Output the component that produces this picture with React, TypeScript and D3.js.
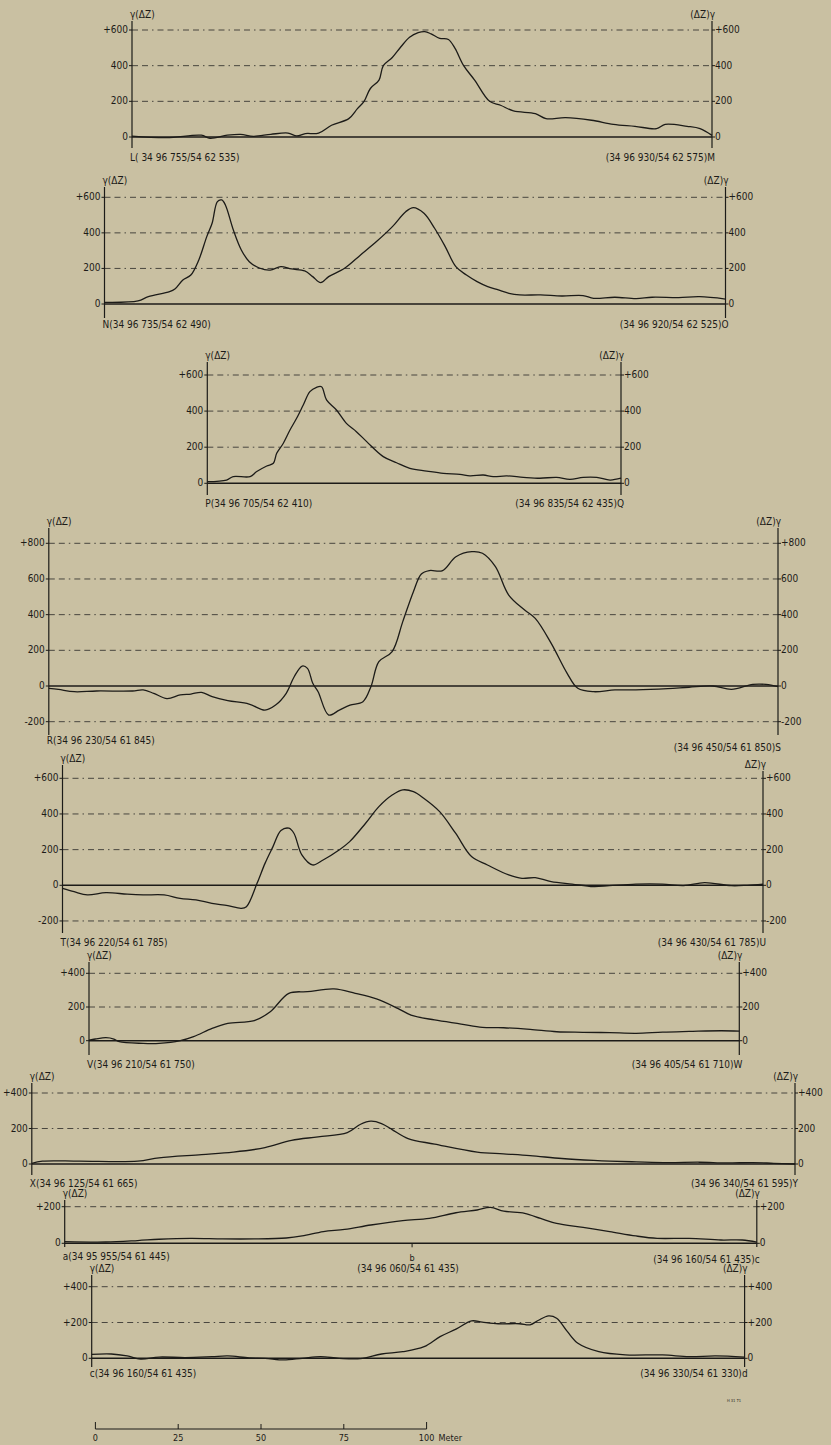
import React from "react";
import * as d3 from "d3";

// ---- Data: distance along profile (m), ΔZ anomaly (gamma) ----
const profileLM = [
  [0, 5], [10.4, -4], [20.9, 10], [23.5, -7], [28.7, 10], [32.7, 15], [36.6, 4], [41.8, 15], [47.0, 22], [49.6, 6],
  [52.2, 19], [56.2, 22], [60.1, 66], [65.3, 103], [67.9, 159], [69.9, 200], [71.8, 272], [74.4, 319], [75.7, 400],
  [78.4, 446], [81.0, 506], [83.6, 559], [86.2, 585], [88.2, 591], [90.1, 578], [92.7, 553], [95.3, 547], [97.3, 497],
  [99.9, 400], [103.2, 319], [107.7, 200], [111.0, 178], [114.9, 146], [121.5, 131], [124.7, 103], [130.6, 109],
  [138.4, 94], [145.0, 71], [151.5, 60], [158.0, 47], [160.6, 71], [167.2, 60], [171.1, 47], [174.7, 9],
];
const profileNO = [
  [0, 9], [10.1, 17], [13.2, 41], [19.6, 69], [21.2, 84], [23.6, 135], [26.0, 163], [28.4, 248], [30.8, 379],
  [32.4, 454], [34.0, 576], [35.3, 585], [36.4, 557], [38.8, 416], [41.2, 304], [43.6, 238], [46.8, 201], [49.9, 191],
  [53.1, 210], [56.3, 197], [60.3, 186], [62.7, 154], [65.1, 120], [67.5, 154], [72.3, 201], [77.1, 276], [81.9, 351],
  [86.7, 435], [90.7, 519], [93.0, 542], [96.2, 510], [99.4, 426], [102.6, 323], [105.8, 210], [109.0, 163],
  [112.2, 126], [115.4, 98], [118.6, 79], [121.8, 60], [125.0, 51], [131.3, 51], [137.7, 45], [144.1, 47], [147.3, 32],
  [153.7, 38], [160.1, 30], [164.9, 38], [172.9, 36], [179.2, 41], [187.0, 28],
];
const profilePQ = [
  [0, 9], [5.8, 18], [7.8, 37], [12.9, 37], [14.9, 65], [17.9, 96], [19.9, 111], [20.9, 166], [22.9, 222], [24.9, 295],
  [26.9, 360], [28.9, 434], [30.9, 508], [32.9, 532], [34.4, 535], [35.9, 462], [38.9, 406], [41.9, 332], [44.9, 286],
  [48.0, 231], [53.0, 148], [57.0, 114], [61.0, 83], [66.1, 68], [71.1, 55], [76.1, 50], [79.1, 41], [83.1, 46],
  [86.1, 37], [90.2, 41], [95.2, 33], [100.2, 28], [105.2, 33], [109.2, 22], [113.2, 33], [117.3, 33], [121.3, 18],
  [124.6, 28],
];
const profileRS = [
  [0, -13], [2.9, -19], [7.7, -32], [14.4, -28], [25.2, -28], [28.4, -22], [31.6, -41], [35.6, -71], [39.6, -50],
  [42.8, -45], [46.0, -36], [49.2, -60], [53.9, -82], [60.3, -101], [65.1, -135], [68.3, -107], [71.5, -41], [73.9, 52],
  [76.3, 112], [77.9, 99], [79.5, 15], [81.1, -32], [84.3, -163], [87.5, -135], [90.7, -107], [94.6, -88], [97.0, -4],
  [99.4, 136], [103.4, 193], [106.6, 361], [109.8, 529], [112.2, 628], [114.6, 647], [118.6, 647], [122.6, 725],
  [127.4, 753], [130.6, 744], [134.5, 669], [138.5, 510], [143.3, 426], [146.5, 379], [151.3, 239], [156.1, 71],
  [159.3, -13], [164.1, -32], [170.5, -22], [176.8, -22], [186.4, -15], [192.8, -7], [200.0, 0], [205.6, -19],
  [212.0, 9], [216.0, 9], [219.6, -4],
];
const profileTU = [
  [0, -17], [3.5, -36], [7.5, -54], [13.1, -41], [19.5, -50], [24.3, -54], [30.6, -54], [35.4, -73], [40.2, -82],
  [45.0, -101], [49.8, -114], [53.8, -129], [55.4, -120], [58.6, 11], [61.0, 123], [63.4, 217], [65.8, 307], [68.2, 320],
  [69.7, 292], [72.1, 170], [75.3, 114], [78.5, 142], [83.3, 198], [86.5, 245], [91.3, 348], [95.3, 441], [99.3, 506],
  [102.5, 535], [105.7, 525], [108.8, 488], [113.6, 413], [118.4, 292], [123.2, 161], [128.0, 114], [134.4, 58],
  [138.4, 39], [142.4, 43], [147.2, 21], [153.5, 7], [159.9, -7], [164.7, -2], [172.7, 7], [180.7, 7], [187.1, -2],
  [193.4, 15], [201.4, -2], [206.2, 0], [211.0, 6],
];
const profileVW = [
  [0, 4], [1.9, 10], [5.1, 18], [7.5, 10], [9.1, -6], [16.3, -16], [21.1, -16], [27.5, 0], [31.5, 24], [37.1, 73],
  [41.8, 103], [49.8, 119], [54.6, 172], [60.2, 281], [65.8, 291], [73.8, 307], [80.2, 281], [86.6, 248], [93.0, 192],
  [97.0, 152], [104.1, 123], [112.1, 99], [118.5, 79], [124.9, 77], [132.9, 67], [140.9, 53], [148.8, 50], [156.8, 48],
  [164.8, 44], [172.8, 51], [180.8, 55], [190.4, 59], [195.9, 57],
];
const profileXY = [
  [0, 4], [3.2, 16], [14.4, 16], [31.9, 16], [38.3, 35], [51.1, 53], [60.6, 67], [70.2, 92], [78.2, 133], [86.2, 153],
  [95.0, 177], [99.0, 224], [102.1, 241], [105.3, 228], [108.5, 194], [113.3, 143], [121.3, 112], [134.1, 67],
  [142.0, 57], [150.0, 47], [159.6, 31], [169.2, 20], [174.0, 16], [182.0, 12], [191.5, 8], [201.1, 10], [209.1, 6],
  [217.1, 8], [223.4, 4], [229.8, 0],
];
const profileAC = [
  [0, 9], [12.4, 7], [22.0, 15], [28.4, 22], [38.0, 27], [47.6, 24], [57.1, 24], [66.7, 29], [71.5, 40], [77.9, 64],
  [84.3, 76], [92.2, 100], [101.8, 124], [109.8, 136], [117.8, 167], [124.2, 182], [128.2, 196], [132.2, 176],
  [138.5, 164], [143.3, 136], [148.1, 109], [156.1, 87], [164.1, 64], [172.0, 40], [178.4, 27], [188.0, 27],
  [197.6, 18], [204.0, 18], [208.4, 7],
];
const profileCD = [
  [0, 22], [5.9, 24], [10.7, 13], [14.7, -4], [20.3, 7], [28.2, 4], [36.2, 9], [41.0, 13], [47.4, 2], [52.2, 0],
  [57.8, -9], [63.4, 0], [68.9, 9], [74.5, 0], [80.9, -2], [87.3, 24], [93.7, 37], [100.1, 65], [104.9, 121],
  [109.7, 163], [114.4, 209], [117.6, 202], [122.4, 193], [128.8, 193], [132.0, 187], [134.4, 211], [137.6, 237],
  [140.0, 224], [143.2, 150], [146.4, 84], [152.7, 37], [160.7, 19], [171.9, 19], [179.9, 9], [187.9, 13], [196.6, 6],
];

// profile lengths (m)
const lengthsM = [174.7, 187.0, 124.6, 219.6, 211.0, 195.9, 229.8, 208.4, 196.6];

// tick values and labels
const ticks600 = [0, 200, 400, 600];
const labels600 = ["0", "200", "400", "+600"];
const ticks800 = [-200, 0, 200, 400, 600, 800];
const labels800 = ["-200", "0", "200", "400", "600", "+800"];
const ticks600n = [-200, 0, 200, 400, 600];
const labels600n = ["-200", "0", "200", "400", "+600"];
const ticks400 = [0, 200, 400];
const labels400 = ["0", "200", "+400"];
const labels400b = ["0", "+200", "+400"];
const ticks200 = [0, 200];
const labels200 = ["0", "+200"];

const startLabels = [
  "L( 34 96 755/54 62 535)", "N(34 96 735/54 62 490)", "P(34 96 705/54 62 410)", "R(34 96 230/54 61 845)",
  "T(34 96 220/54 61 785)", "V(34 96 210/54 61 750)", "X(34 96 125/54 61 665)", "a(34 95 955/54 61 445)",
  "c(34 96 160/54 61 435)",
];
const endLabels = [
  "(34 96 930/54 62 575)M", "(34 96 920/54 62 525)O", "(34 96 835/54 62 435)Q", "(34 96 450/54 61 850)S",
  "(34 96 430/54 61 785)U", "(34 96 405/54 61 710)W", "(34 96 340/54 61 595)Y", "(34 96 160/54 61 435)c",
  "(34 96 330/54 61 330)d",
];
const midPointM = 104.6; // point b on profile a–c
const midLabel = "(34 96 060/54 61 435)";
const scaleTicksM = [0, 25, 50, 75, 100];

// ---- Layout ----
const panels = [
  { data: profileLM, len: lengthsM[0], ticks: ticks600, labels: labels600, left: 132, right: 712, refVal: 600, refY: 30, zeroY: 137, axisTop: 21, axisBottom: 148, labelY: 158 },
  { data: profileNO, len: lengthsM[1], ticks: ticks600, labels: labels600, left: 104.5, right: 725.5, refVal: 600, refY: 197.3, zeroY: 304, axisTop: 187, axisBottom: 318, labelY: 325 },
  { data: profilePQ, len: lengthsM[2], ticks: ticks600, labels: labels600, left: 207.3, right: 621, refVal: 600, refY: 375, zeroY: 483.3, axisTop: 362, axisBottom: 495, labelY: 504 },
  { data: profileRS, len: lengthsM[3], ticks: ticks800, labels: labels800, left: 48.8, right: 778, refVal: 800, refY: 543.3, zeroY: 686, axisTop: 528, axisBottom: 735, labelY: 741, endLabelY: 748 },
  { data: profileTU, len: lengthsM[4], ticks: ticks600n, labels: labels600n, left: 62.5, right: 763, refVal: 600, refY: 778.3, zeroY: 885.3, axisTop: 765, rightAxisTop: 771, axisBottom: 933, labelY: 943, rightTitle: "ΔZ)γ" },
  { data: profileVW, len: lengthsM[5], ticks: ticks400, labels: labels400, left: 89, right: 739.3, refVal: 400, refY: 973.3, zeroY: 1040.7, axisTop: 962, axisBottom: 1055, labelY: 1065 },
  { data: profileXY, len: lengthsM[6], ticks: ticks400, labels: labels400, left: 31.8, right: 795, refVal: 400, refY: 1093, zeroY: 1164, axisTop: 1083, axisBottom: 1175, labelY: 1184 },
  { data: profileAC, len: lengthsM[7], ticks: ticks200, labels: labels200, left: 64.7, right: 756.8, refVal: 200, refY: 1206.7, zeroY: 1243.3, axisTop: 1200, axisBottom: 1247, labelY: 1257, endLabelY: 1260 },
  { data: profileCD, len: lengthsM[8], ticks: ticks400, labels: labels400b, left: 91.7, right: 744.6, refVal: 400, refY: 1286.7, zeroY: 1358.3, axisTop: 1275, axisBottom: 1367, labelY: 1374 },
];

const SVG_WIDTH = 831;
const SVG_HEIGHT = 1445;
const BG = "#c9c0a2";
const INK = "#1c1b18";
const FONT = "'Liberation Sans Narrow', 'DejaVu Sans Condensed', 'Roboto Condensed', 'Liberation Sans', sans-serif";

function ProfilePanel(props: any) {
  const p = props.p;
  const idx = props.idx;
  const x = d3.scaleLinear().domain([0, p.len]).range([p.left, p.right]);
  const y = d3.scaleLinear().domain([0, p.refVal]).range([p.zeroY, p.refY]);
  const line = d3
    .line()
    .x((d: any) => x(d[0]))
    .y((d: any) => y(d[1]))
    .curve(d3.curveCatmullRom.alpha(0.5));
  const rTop = p.rightAxisTop != null ? p.rightAxisTop : p.axisTop;
  const endY = p.endLabelY != null ? p.endLabelY : p.labelY;
  return (
    <g>
      {p.ticks.map((t: number) =>
        t === 0 ? (
          <line key={t} x1={p.left} x2={p.right} y1={y(t)} y2={y(t)} stroke={INK} strokeWidth={1.4} />
        ) : (
          <line key={t} x1={p.left} x2={p.right} y1={y(t)} y2={y(t)} stroke="#3a3833" strokeWidth={0.9}
            strokeDasharray="6 4 6 4 1.5 4" />
        )
      )}
      <line x1={p.left} x2={p.left} y1={p.axisTop} y2={p.axisBottom} stroke={INK} strokeWidth={1.2} />
      <line x1={p.right} x2={p.right} y1={rTop} y2={p.axisBottom} stroke={INK} strokeWidth={1.2} />
      {p.ticks.map((t: number, i: number) => (
        <g key={"t" + t}>
          <line x1={p.left - 3} x2={p.left} y1={y(t)} y2={y(t)} stroke={INK} strokeWidth={1} />
          <line x1={p.right} x2={p.right + 3} y1={y(t)} y2={y(t)} stroke={INK} strokeWidth={1} />
          <text x={p.left - 4} y={y(t)} textAnchor="end" dominantBaseline="middle" fontSize={10}>{p.labels[i]}</text>
          <text x={p.right + 3} y={y(t)} textAnchor="start" dominantBaseline="middle" fontSize={10}>{p.labels[i]}</text>
        </g>
      ))}
      <text x={p.left - 2} y={p.axisTop - 3} fontSize={10}>γ(ΔZ)</text>
      <text x={p.right + 3} y={rTop - 3} textAnchor="end" fontSize={10}>{p.rightTitle || "(ΔZ)γ"}</text>
      <path d={line(p.data) || ""} fill="none" stroke={INK} strokeWidth={1.3} strokeLinejoin="round" />
      <text x={p.left - 2} y={p.labelY} dominantBaseline="middle" fontSize={10}>{startLabels[idx]}</text>
      <text x={p.right + 3} y={endY} textAnchor="end" dominantBaseline="middle" fontSize={10}>{endLabels[idx]}</text>
      {idx === 7 ? (
        <g>
          <line x1={x(midPointM)} x2={x(midPointM)} y1={p.zeroY} y2={p.zeroY + 4} stroke={INK} strokeWidth={1} />
          <text x={x(midPointM)} y={p.labelY + 1} textAnchor="middle" dominantBaseline="middle" fontSize={9}>b</text>
          <text x={x(midPointM) - 4} y={p.labelY + 12} textAnchor="middle" dominantBaseline="middle" fontSize={10}>{midLabel}</text>
        </g>
      ) : null}
    </g>
  );
}

export default function App() {
  const sx = d3.scaleLinear().domain([0, 100]).range([95.4, 426.6]);
  const barY = 1429;
  return (
    <svg width={SVG_WIDTH} height={SVG_HEIGHT} style={{ position: "absolute", left: 0, top: 0, display: "block" }}
      fontFamily={FONT} fill={INK}>
      <rect x={0} y={0} width={SVG_WIDTH} height={SVG_HEIGHT} fill={BG} />
      {panels.map((p, i) => (
        <ProfilePanel key={i} p={p} idx={i} />
      ))}
      <line x1={sx(0)} x2={sx(100)} y1={barY} y2={barY} stroke={INK} strokeWidth={1.1} />
      {scaleTicksM.map((t) => (
        <g key={t}>
          <line x1={sx(t)} x2={sx(t)} y1={barY} y2={barY - (t === 0 || t === 100 ? 7 : 5)} stroke={INK} strokeWidth={1} />
          <text x={sx(t)} y={barY + 9} textAnchor="middle" dominantBaseline="middle" fontSize={9}>{t}</text>
        </g>
      ))}
      <text x={sx(100) + 12} y={barY + 9} dominantBaseline="middle" fontSize={9}>Meter</text>
      <text x={734} y={1401} textAnchor="middle" dominantBaseline="middle" fontSize={4}>H 31 71</text>
    </svg>
  );
}
